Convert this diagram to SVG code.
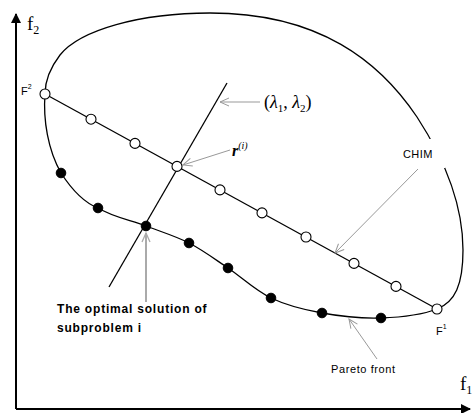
<svg xmlns="http://www.w3.org/2000/svg" width="472" height="413" viewBox="0 0 472 413">
<style>
.ax{stroke:#000;stroke-width:2;fill:none}
.ln{stroke:#000;stroke-width:1.3;fill:none}
.oc{fill:#fff;stroke:#000;stroke-width:1.1}
.fc{fill:#000;stroke:#000;stroke-width:1}
.ga{stroke:#999;stroke-width:1;fill:none;marker-end:url(#v)}
.gb{stroke:#aaa;stroke-width:2;fill:none;marker-end:url(#vb)}
.sv{font-family:"Liberation Serif","Times New Roman",serif;fill:#000}
.sn{font-family:"Liberation Sans",Arial,sans-serif;fill:#000}
</style>
<defs>
<marker id="v" markerUnits="userSpaceOnUse" markerWidth="12" markerHeight="12" refX="10" refY="5" orient="auto"><path d="M1,1 L10,5 L1,9" fill="none" stroke="#999" stroke-width="1"/></marker>
<marker id="vb" markerUnits="userSpaceOnUse" markerWidth="12" markerHeight="12" refX="10" refY="5" orient="auto"><path d="M1,1 L10,5 L1,9" fill="none" stroke="#aaa" stroke-width="1.3"/></marker>
<marker id="ah" markerUnits="userSpaceOnUse" markerWidth="12" markerHeight="12" refX="9" refY="5" orient="auto"><path d="M0,0 L10,5 L0,10 Z" fill="#000"/></marker>
</defs>
<g id="axes">
<line class="ax" x1="16" y1="409" x2="16" y2="14" marker-end="url(#ah)"/>
<line class="ax" x1="16" y1="409" x2="470" y2="409" marker-end="url(#ah)"/>
<text class="sv" x="27" y="30" font-size="19">f<tspan font-size="12" dy="4">2</tspan></text>
<text class="sv" x="460" y="390" font-size="19">f<tspan font-size="12" dy="4">1</tspan></text>
</g>
<g id="region">
<path class="ln" d="M437,309 C455,302 463,285 463,250 C463,205 445,160 417,117 C380,62 320,13 210,13 C140,13 80,30 60,55 C50,68 45,80 45,94 C43,120 48,150 61,173 C72,190 85,203 98,208 C112.2,216.8 130.8,220.2 146,226 C161.2,231.8 175.3,236 189,243 C202.7,250 214.3,258.8 228,268 C241.7,277.2 255.3,290.5 271,298 C286.7,305.5 303.7,309.7 322,313 C340.3,316.3 361.8,318.7 381,318 C400.2,317.3 423.8,314.2 437,309 Z"/>
<rect x="399" y="139" width="46" height="29" fill="#fff"/>
</g>
<g id="connectors">
<line class="ln" x1="45" y1="94" x2="437" y2="309"/>
<line class="ln" x1="227" y1="83" x2="109" y2="287"/>
<line class="ga" x1="260" y1="102" x2="220" y2="102"/>
<line class="ga" x1="230" y1="150" x2="183" y2="165"/>
<line class="ga" x1="418" y1="169" x2="335" y2="253"/>
<line class="ga" x1="377" y1="359" x2="349" y2="319"/>
<line class="gb" x1="146" y1="302" x2="146" y2="233"/>
</g>
<g id="chim-points">
<circle class="oc" cx="45" cy="94" r="5"/>
<circle class="oc" cx="91" cy="119.2" r="5"/>
<circle class="oc" cx="135" cy="143.4" r="5"/>
<circle class="oc" cx="177" cy="166.4" r="5"/>
<circle class="oc" cx="220" cy="189.9" r="5"/>
<circle class="oc" cx="262" cy="212.9" r="5"/>
<circle class="oc" cx="306" cy="237" r="5"/>
<circle class="oc" cx="354" cy="263.4" r="5"/>
<circle class="oc" cx="396" cy="286.4" r="5"/>
<circle class="oc" cx="437" cy="309" r="5"/>
</g>
<g id="pareto-points">
<circle class="fc" cx="61" cy="173" r="4.8"/>
<circle class="fc" cx="98" cy="208" r="4.8"/>
<circle class="fc" cx="146" cy="226" r="4.8"/>
<circle class="fc" cx="189" cy="243" r="4.8"/>
<circle class="fc" cx="228" cy="268" r="4.8"/>
<circle class="fc" cx="271" cy="298" r="4.8"/>
<circle class="fc" cx="322" cy="313" r="4.8"/>
<circle class="fc" cx="381" cy="318" r="4.8"/>
</g>
<g id="labels">
<text class="sn" x="21" y="95" font-size="11">F<tspan font-size="7" dy="-6">2</tspan></text>
<text class="sn" x="436" y="335" font-size="11">F<tspan font-size="7" dy="-6">1</tspan></text>
<text class="sv" x="264" y="108" font-size="18">(<tspan font-style="italic">λ</tspan><tspan font-size="11" dy="4">1</tspan><tspan dy="-4">, </tspan><tspan font-style="italic">λ</tspan><tspan font-size="11" dy="4">2</tspan><tspan dy="-4">)</tspan></text>
<text class="sv" x="232" y="156" font-size="16" font-style="italic" font-weight="bold">r<tspan font-size="10" font-weight="normal" dy="-7">(i)</tspan></text>
<text class="sn" x="403" y="158" font-size="11" letter-spacing="0.4">CHIM</text>
<text class="sn" x="331" y="373" font-size="11" letter-spacing="0.6">Pareto front</text>
<text class="sn" x="57" y="313" font-size="12" font-weight="bold" letter-spacing="0.8">The optimal solution of</text>
<text class="sn" x="57" y="332" font-size="12" font-weight="bold" letter-spacing="0.8">subproblem i</text>
</g>
</svg>
